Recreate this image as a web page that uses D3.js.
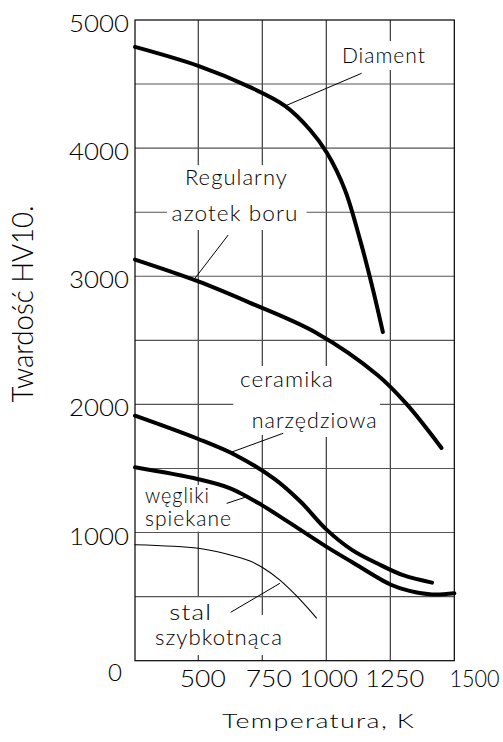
<!DOCTYPE html>
<html>
<head>
<meta charset="utf-8">
<script src="https://cdn.jsdelivr.net/npm/d3@7"></script>
<style>
  html, body { margin: 0; padding: 0; background: #fff; }
  svg text { font-family: Lato, "DejaVu Sans", sans-serif; font-weight: 300; fill: #000; }
</style>
</head>
<body>
<svg id="chart" width="503" height="742"></svg>
<script>
// Axis ticks and grid
const temperatureTicks = [500, 750, 1000, 1250, 1500];
const hardnessTicks = [0, 1000, 2000, 3000, 4000, 5000];
const temperatureGrid = [500, 750, 1000, 1250];
const hardnessGrid = [500, 1000, 1500, 2000, 2500, 3000, 3500, 4000, 4500];

// Hardness HV10 against temperature [K, HV]
const diament = [[253, 4790], [500, 4642], [700, 4478], [840, 4328], [937, 4142], [1003, 3962],
  [1073, 3674], [1132, 3284], [1178, 2932], [1221, 2565]];
const azotekBoru = [[253, 3130], [500, 2960], [700, 2795], [960, 2560], [1200, 2230], [1315, 2000],
  [1450, 1660]];
const ceramika = [[253, 1912], [500, 1730], [650, 1600], [800, 1415], [900, 1240], [1000, 1025],
  [1100, 865], [1200, 758], [1300, 667], [1413, 609]];
const weglikiSpiekane = [[253, 1509], [500, 1416], [625, 1345], [750, 1212], [850, 1085], [1000, 890],
  [1100, 770], [1250, 595], [1325, 545], [1413, 517], [1500, 526]];
const stalSzybkotnaca = [[253, 905], [500, 877], [611, 833], [702, 778], [754, 723], [819, 629],
  [884, 505], [962, 333]];

const series = [
  { name: "Diament", values: diament, width: 4 },
  { name: "Regularny azotek boru", values: azotekBoru, width: 4 },
  { name: "ceramika narzędziowa", values: ceramika, width: 4 },
  { name: "węgliki spiekane", values: weglikiSpiekane, width: 4 },
  { name: "stal szybkotnąca", values: stalSzybkotnaca, width: 1.1 }
];

// Gaps left in grid lines behind the labels, [from, to] in data units
const verticalGaps = {
  500: [[44, 500], [1007, 1371], [3361, 3867]],
  750: [[44, 357], [1762, 2300], [3361, 3867]],
  1000: [[1746, 2300]],
  1250: [[4610, 4835]]
};
const horizontalGaps = {
  3500: [[378, 923]],
  2000: [[637, 1210]]
};

// Curve labels: text, anchor (K, HV), drawn width
const labels = [
  { text: "Diament", t: 1061, hv: 4665, w: 84 },
  { text: "Regularny", t: 448, hv: 3712, w: 103 },
  { text: "azotek boru", t: 396, hv: 3431, w: 127 },
  { text: "ceramika", t: 663, hv: 2134, w: 94 },
  { text: "narzędziowa", t: 709, hv: 1818, w: 126 },
  { text: "węgliki", t: 292, hv: 1228, w: 65 },
  { text: "spiekane", t: 292, hv: 1051, w: 87 },
  { text: "stal", t: 387, hv: 318, w: 43 },
  { text: "szybkotnąca", t: 331, hv: 123, w: 128 }
];
const leaders = [
  { from: [839, 4329], to: [1138, 4584] },
  { from: [487, 2984], to: [617, 3322] },
  { from: [632, 1629], to: [832, 1775] },
  { from: [611, 1228], to: [683, 1275] },
  { from: [627, 378], to: [819, 604] }
];

const svg = d3.select("#chart");
const x = d3.scaleLinear().domain([253, 1500]).range([135, 454.3]);
const y = d3.scaleLinear().domain([0, 5000]).range([660.7, 20]);

function segments(lo, hi, gaps) {
  const out = [];
  let start = lo;
  (gaps || []).slice().sort((a, b) => a[0] - b[0]).forEach(([a, b]) => {
    if (a > start) out.push([start, a]);
    start = Math.max(start, b);
  });
  if (start < hi) out.push([start, hi]);
  return out;
}

const grid = svg.append("g");
temperatureGrid.forEach(t => {
  segments(0, 5000, verticalGaps[t]).forEach(([a, b]) => {
    grid.append("line")
      .attr("x1", x(t)).attr("x2", x(t))
      .attr("y1", y(a)).attr("y2", y(b))
      .attr("stroke", "#111").attr("stroke-width", 1);
  });
});
hardnessGrid.forEach(h => {
  segments(253, 1500, horizontalGaps[h]).forEach(([a, b]) => {
    grid.append("line")
      .attr("x1", x(a)).attr("x2", x(b))
      .attr("y1", y(h)).attr("y2", y(h))
      .attr("stroke", "#555").attr("stroke-width", 1.1);
  });
});

// Frame
svg.append("rect")
  .attr("x", x(253)).attr("y", y(5000))
  .attr("width", x(1500) - x(253)).attr("height", y(0) - y(5000))
  .attr("fill", "none").attr("stroke", "#000").attr("stroke-width", 1.2);

// Curves
const line = d3.line().x(d => x(d[0])).y(d => y(d[1])).curve(d3.curveCatmullRom.alpha(0.5));
svg.append("g").selectAll("path").data(series).join("path")
  .attr("d", d => line(d.values))
  .attr("fill", "none").attr("stroke", "#000")
  .attr("stroke-width", d => d.width)
  .attr("stroke-linecap", "round").attr("stroke-linejoin", "round");

// Leader lines
svg.append("g").selectAll("line").data(leaders).join("line")
  .attr("x1", d => x(d.from[0])).attr("y1", d => y(d.from[1]))
  .attr("x2", d => x(d.to[0])).attr("y2", d => y(d.to[1]))
  .attr("stroke", "#000").attr("stroke-width", 1);

// Labels
svg.append("g").selectAll("text").data(labels).join("text")
  .attr("x", d => x(d.t)).attr("y", d => y(d.hv))
  .attr("font-size", 21).attr("letter-spacing", 1)
  .attr("textLength", d => d.w).attr("lengthAdjust", "spacingAndGlyphs")
  .text(d => d.text);

// Axes (labels only)
const yAxis = svg.append("g").attr("transform", `translate(${x(253)},0)`)
  .call(d3.axisLeft(y).tickValues(hardnessTicks).tickSize(0).tickPadding(6).tickFormat(d3.format("d")));
yAxis.select(".domain").remove();
yAxis.selectAll("text")
  .attr("font-size", 23.5).attr("dy", null).attr("y", 11.5)
  .attr("textLength", d => d === 0 ? 14 : 60).attr("lengthAdjust", "spacingAndGlyphs");
yAxis.selectAll(".tick").filter(d => d === 0).select("text")
  .attr("x", -13).attr("y", 19.5);

// Small nudges that keep the bottom labels apart
const xLabelShift = t => (t === 1500 ? 19.7 : t === 1000 ? 1.7 : t === 750 ? 6 : 4);
const xAxis = svg.append("g").attr("transform", `translate(0,${y(0)})`)
  .call(d3.axisBottom(x).tickValues(temperatureTicks).tickSize(0).tickFormat(d3.format("d")));
xAxis.select(".domain").remove();
xAxis.selectAll("text")
  .attr("font-size", 23.5).attr("dy", null).attr("y", 26.5)
  .attr("dx", xLabelShift)
  .attr("textLength", d => d < 1000 ? 46 : (d === 1500 ? 50 : 59)).attr("lengthAdjust", "spacingAndGlyphs");

svg.selectAll(".tick text").attr("fill", "#000")
  .style("font-family", "Lato, 'DejaVu Sans', sans-serif").style("font-weight", 300);

// Axis titles
svg.append("text")
  .attr("x", 222).attr("y", 728.3)
  .attr("font-size", 20).attr("letter-spacing", 1)
  .attr("textLength", 193).attr("lengthAdjust", "spacingAndGlyphs")
  .text("Temperatura,  K");

svg.append("text")
  .attr("transform", "translate(33,304) rotate(-90)")
  .attr("text-anchor", "middle")
  .attr("font-size", 30)
  .attr("textLength", 197).attr("lengthAdjust", "spacingAndGlyphs")
  .text("Twardość  HV10.");
</script>
</body>
</html>
